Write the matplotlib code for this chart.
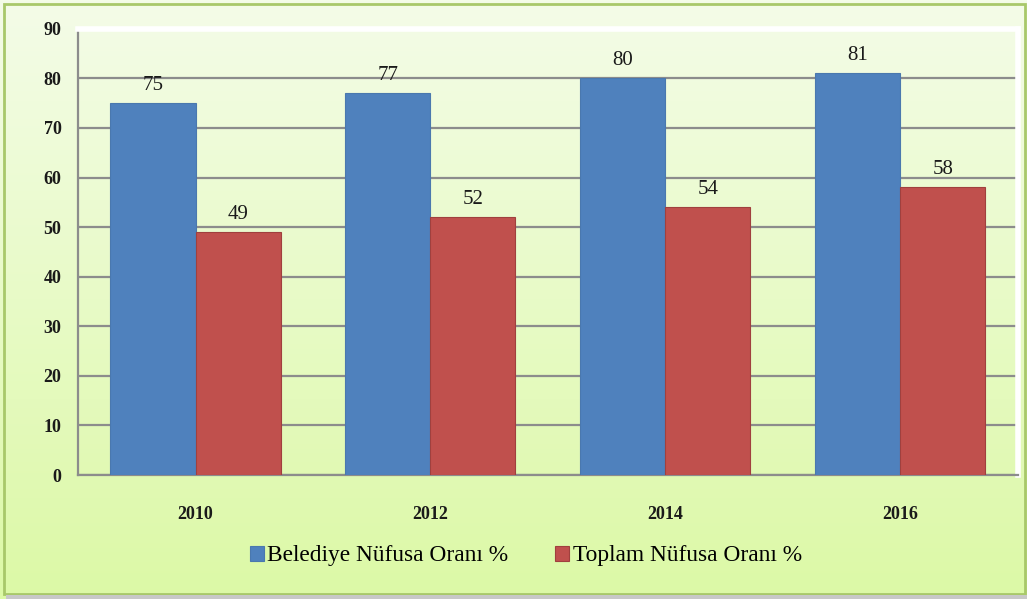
import matplotlib.pyplot as plt
import numpy as np
from matplotlib.patches import Rectangle

years = ['2010', '2012', '2014', '2016']
belediye = [75, 77, 80, 81]
toplam = [49, 52, 54, 58]
series_names = ['Belediye Nüfusa Oranı %', 'Toplam Nüfusa Oranı %']

blue = '#4F81BD'
red = '#C0504D'
serif = ['Liberation Serif', 'DejaVu Serif']

fig = plt.figure(figsize=(10.27, 5.99), dpi=100)

# green gradient background with border
bg = fig.add_axes([0, 0, 1, 1], zorder=-2)
top_c = np.array([0xF4, 0xFC, 0xE8]) / 255
bot_c = np.array([0xDC, 0xF9, 0xA6]) / 255
t = np.linspace(0, 1, 256)[:, None]
grad = top_c * (1 - t[..., None]) + bot_c * t[..., None]
bg.imshow(np.repeat(grad, 2, axis=1), aspect='auto', extent=[0, 1, 0, 1], origin='upper')
bg.add_patch(Rectangle((0.004, 0.008), 0.994, 0.986, transform=bg.transAxes, fill=False,
                       edgecolor='#A8C86A', lw=2))
bg.add_patch(Rectangle((0.006, 0.0), 0.994, 0.007, transform=bg.transAxes, color='#C8C8C8', lw=0))
bg.set_xlim(0, 1)
bg.set_ylim(0, 1)
bg.axis('off')

ax = fig.add_axes([0.076, 0.207, 0.915, 0.745])
ax.patch.set_alpha(0)
x = np.arange(len(years))
w = 0.362
b1 = ax.bar(x - w / 2, belediye, w, color=blue, edgecolor='#4A78AE', lw=0.8,
            label=series_names[0], zorder=3)
b2 = ax.bar(x + w / 2, toplam, w, color=red, edgecolor='#A0403E', lw=0.8,
            label=series_names[1], zorder=3)
for bars, vals in ((b1, belediye), (b2, toplam)):
    for r, v in zip(bars, vals):
        ax.text(r.get_x() + r.get_width() / 2, v + 1.6, str(v), ha='center', va='bottom',
                fontsize=15, family=serif, color='#1a1a1a')

ax.set_xlim(-0.5, 3.5)
ax.set_ylim(0, 90)
ax.set_yticks(range(0, 91, 10))
ax.set_xticks(x)
ax.set_xticklabels(years)
ax.yaxis.grid(True, color='#8C8C8C', lw=1.6, zorder=1)
ax.tick_params(length=0)
ax.tick_params(axis='y', pad=12)
ax.tick_params(axis='x', pad=22)
for lab in ax.get_xticklabels() + ax.get_yticklabels():
    lab.set_family(serif)
    lab.set_fontweight('bold')
    lab.set_fontsize(13)
    lab.set_color('#1a1a1a')
for s in ('top', 'right'):
    ax.spines[s].set_color('white')
    ax.spines[s].set_linewidth(4)
ax.spines['left'].set_color('#8C8C8C')
ax.spines['left'].set_linewidth(1.6)
ax.spines['bottom'].set_color('#8C8C8C')
ax.spines['bottom'].set_linewidth(1.6)

leg = fig.legend(handles=[b1, b2], loc='center', bbox_to_anchor=(0.512, 0.072), ncol=2,
                 frameon=False, prop={'family': serif, 'size': 16.8}, handlelength=0.6,
                 handleheight=0.6, handletextpad=0.15, columnspacing=2.0)

fig.savefig('out.png', dpi=100)
